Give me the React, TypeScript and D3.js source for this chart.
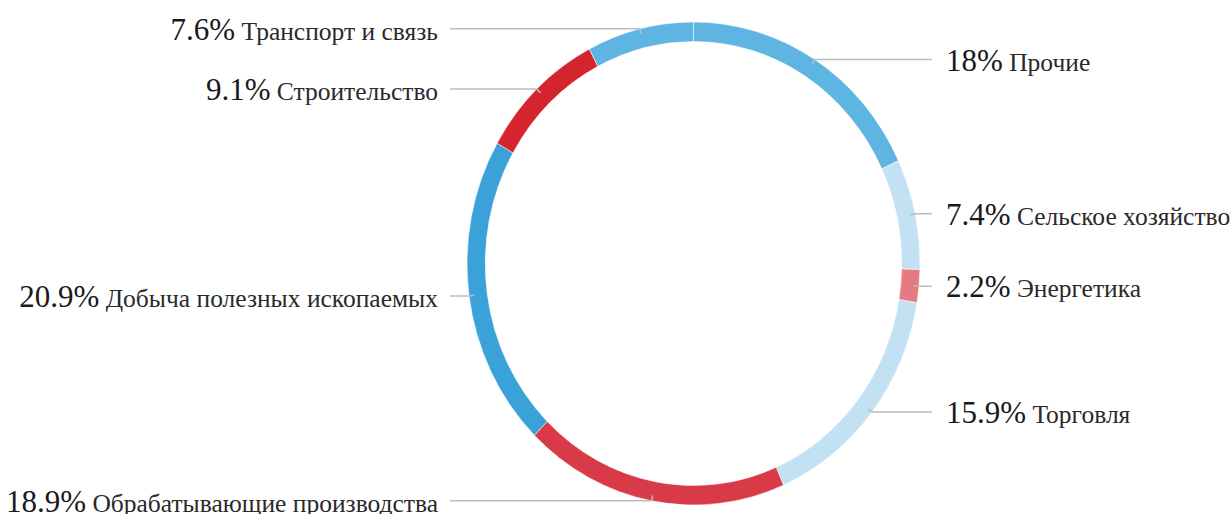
import React from "react";
import * as d3 from "d3";

const categories = [
  "Прочие",
  "Сельское хозяйство",
  "Энергетика",
  "Торговля",
  "Обрабатывающие производства",
  "Добыча полезных ископаемых",
  "Строительство",
  "Транспорт и связь",
];
const values = [18, 7.4, 2.2, 15.9, 18.9, 20.9, 9.1, 7.6];
const palette = ["#5EB5E2", "#C2E1F3", "#E57A82", "#C2E1F3", "#D93A47", "#3BA2D9", "#D4252F", "#5EB5E2"];

const W = 1232;
const H = 514;
const cx = 693.5;
const cy = 263.5;
const rOuter = 241.5;
const rInner = 222;
const sx = 226.5 / 241.5;
const rightEdge = 932;
const leftEdge = 450;
const rightText = 946;
const leftText = 438;
const FONT = "Liberation Serif";

export default function App() {
  const data = categories.map((c, i) => ({ name: c, value: values[i], color: palette[i] }));
  const pie = d3
    .pie<any>()
    .value((d: any) => d.value)
    .sort(null)
    .startAngle(0)
    .endAngle(2 * Math.PI);
  const arcs = pie(data);
  const arc = d3.arc<any>().innerRadius(rInner).outerRadius(rOuter);

  const pt = (a: number, r: number) => [cx + r * sx * Math.sin(a), cy - r * Math.cos(a)];

  return (
    <svg width={W} height={H} style={{ display: "block", position: "absolute", left: 0, top: 0 }}>
      <g transform={`translate(${cx},${cy}) scale(${sx},1)`}>
        {arcs.map((a, i) => (
          <path key={i} d={arc(a) as string} fill={a.data.color} stroke="#ffffff" strokeWidth={0.8} strokeOpacity={0.7} />
        ))}
      </g>
      {arcs.map((a, i) => {
        const mid = (a.startAngle + a.endAngle) / 2;
        const [x0, y0] = pt(mid, 236);
        const [x1, y1] = pt(mid, rOuter);
        const right = Math.sin(mid) > 0;
        const xe = right ? rightEdge : leftEdge;
        const tx = right ? rightText : leftText;
        return (
          <g key={i}>
            <polyline
              points={`${x0},${y0} ${x1},${y1} ${xe},${y1}`}
              fill="none"
              stroke="#BDBDBD"
              strokeWidth={1.5}
            />
            <text
              x={tx}
              y={y1 + 11}
              textAnchor={right ? "start" : "end"}
              fontFamily={FONT}
              fill="#1a1a1a"
            >
              <tspan fontSize={31} fontFamily={FONT}>{`${a.data.value}%`}</tspan>
              <tspan fontSize={25.5} fontFamily={FONT} fill="#2a2a2a">{` ${a.data.name}`}</tspan>
            </text>
          </g>
        );
      })}
    </svg>
  );
}
